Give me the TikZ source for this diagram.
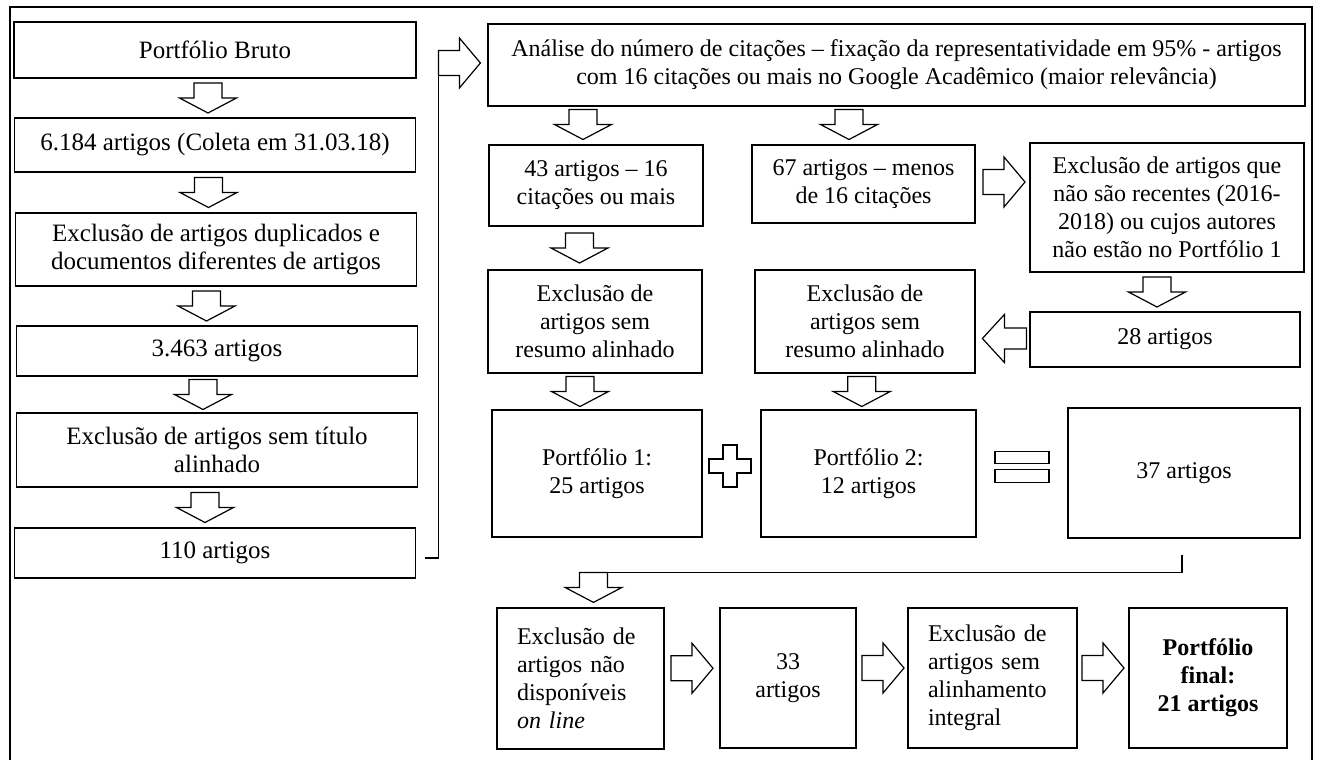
\documentclass[tikz,border=0pt]{standalone}
\usepackage{fontspec}
\setmainfont{Liberation Serif}
\usetikzlibrary{calc}
\newcommand\boxfont{\fontsize{24}{28}\selectfont}
\newcommand\leftfont{\fontsize{25}{28.5}\selectfont}
\tikzset{
  box/.style={draw, line width=1.2pt, font=\boxfont, align=center, inner sep=2pt},
  colbox/.style={box, font=\leftfont, minimum width=401},
  lbox/.style={draw, line width=1.2pt, font=\boxfont, align=left, inner xsep=20pt, inner ysep=2pt},
  blk/.style={draw, line width=1.2pt, fill=white, line join=miter},
  conn/.style={line width=1.4pt},
  darr/.pic={\draw[blk] (-14,-15) -- (14,-15) -- (14,0) -- (28.5,0) -- (0,15) -- (-28.5,0) -- (-14,0) -- cycle;},
  rarr/.pic={\draw[blk] (-21,-12.5) -- (0,-12.5) -- (0,-25) -- (21,0) -- (0,25) -- (0,12.5) -- (-21,12.5) -- cycle;},
  larr/.pic={\draw[blk] (22,-10.5) -- (0,-10.5) -- (0,-24) -- (-22,0) -- (0,24) -- (0,10.5) -- (22,10.5) -- cycle;},
  plussign/.pic={\draw[blk] (-7,-21) -- (7,-21) -- (7,-7) -- (21,-7) -- (21,7) -- (7,7) -- (7,21) -- (-7,21) -- (-7,7) -- (-21,7) -- (-21,-7) -- (-7,-7) -- cycle;},
  eqsign/.pic={\draw[blk] (-27,-15.5) rectangle (27,-3.5); \draw[blk] (-27,2.5) rectangle (27,15.5);},
}
\begin{document}
\begin{tikzpicture}[x=1pt, y=-1pt]
\useasboundingbox (0,0) rectangle (1317,760);
% outer frame (open at the bottom)
\draw[line width=1.5pt] (10,762) -- (10,7) -- (1312,7) -- (1312,762);

% left column
\node[colbox, minimum width=402, minimum height=56] (p0) at (215,50) {Portfólio Bruto};
\node[colbox, minimum height=54] (p1) at (215,145) {6.184 artigos (Coleta em 31.03.18)};
\node[colbox, minimum height=73] (p2) at (216,249.5) {Exclusão de artigos duplicados e\\documentos diferentes de artigos};
\node[colbox, minimum height=50] (p3) at (217,351) {3.463 artigos};
\node[colbox, minimum height=74] (p4) at (217,450) {Exclusão de artigos sem título\\alinhado};
\node[colbox, minimum height=50] (p5) at (215,553) {110 artigos};

\pic at ($(p0.south)!.5!(p1.north)+(-7,0)$) {darr};
\pic at ($(p1.south)!.5!(p2.north)+(-7,0)$) {darr};
\pic at ($(p2.south)!.5!(p3.north)+(-10,0)$) {darr};
\pic at ($(p3.south)!.5!(p4.north)+(-14,0)$) {darr};
\pic at ($(p4.south)!.5!(p5.north)+(-11,0)$) {darr};

% upper right block
\node[box, minimum width=817, minimum height=82] (top) at (896.5,65) {Análise do número de citações – fixação da representatividade em 95\% - artigos\\com 16 citações ou mais no Google Acadêmico (maior relevância)};
\node[box, minimum width=214, minimum height=81] (a43) at (596,185.5) {43 artigos – 16\\citações ou mais};
\node[box, minimum width=223, minimum height=78] (a67) at (863.5,184) {67 artigos – menos\\de 16 citações};
\node[box, minimum width=274, minimum height=129] (exR) at (1167,207.5) {Exclusão de artigos que\\não são recentes (2016-\\2018) ou cujos autores\\não estão no Portfólio 1};
\node[box, minimum width=270, minimum height=55] (a28) at (1165,339.5) {28 artigos};
\node[box, minimum width=214, minimum height=103] (exA) at (595,321.5) {Exclusão de\\artigos sem\\resumo alinhado};
\node[box, minimum width=220, minimum height=103] (exB) at (865,321.5) {Exclusão de\\artigos sem\\resumo alinhado};
\node[box, minimum width=210, minimum height=127] (pf1) at (597,473.5) {Portfólio 1:\\25 artigos};
\node[box, minimum width=215, minimum height=127] (pf2) at (868.5,473.5) {Portfólio 2:\\12 artigos};
\node[box, minimum width=232, minimum height=130] (a37) at (1184,473) {37 artigos};

% connector from 110 artigos to the analysis box
\draw[conn] ($(p5.east)+(9,5)$) -| ($(top.west)+(-49,-14.5)$);
\pic at ($(top.west)+(-28,-2)$) {rarr};

\pic at ($(top.south -| a43.north)!.5!(a43.north)+(-13,-1)$) {darr};
\pic at ($(top.south -| a67.north)!.5!(a67.north)+(-14.5,-1)$) {darr};
\pic at ($(a67.east)!.5!(a67.east -| exR.west)+(1.5,-2)$) {rarr};
\pic at ($(exR.south)!.5!(a28.north)+(-9,0)$) {darr};
\pic at ($(a28.west)+(-25,-1)$) {larr};
\pic at ($(a43.south)!.5!(exA.north)+(-16,0)$) {darr};
\pic at ($(exA.south)!.5!(pf1.north)+(-16,0)$) {darr};
\pic at ($(exB.south)!.5!(pf2.north)+(-5,0)$) {darr};
\pic at ($(pf1.east)!.5!(pf2.west)+(-1.5,-7.5)$) {plussign};
\pic at ($(pf2.east)!.5!(a37.west)+(0,-6)$) {eqsign};

% bottom row
\node[lbox, text width=127, minimum height=141] (b1) at (580.5,678.5) {Exclusão de\\artigos não\\disponíveis\\\textit{on line}};
\node[box, minimum width=136, minimum height=140] (b2) at (788,678) {33\\artigos};
\node[lbox, text width=129, minimum height=140] (b3) at (992.5,678) {Exclusão de\\artigos sem\\alinhamento\\integral};
\node[box, minimum width=158, minimum height=140, font=\boxfont\bfseries] (b4) at (1208,678) {Portfólio\\final:\\21 artigos};

% connector from 37 artigos down to the bottom row
\draw[conn] ($(a37.south)+(-2,16)$) |- ($(b1.north)+(27,-35)$);
\pic at ($(b1.north)+(13,-20)$) {darr};

\pic at ($(b1.east)!.5!(b2.west)+(0,-10)$) {rarr};
\pic at ($(b2.east)!.5!(b3.west)+(1,-10)$) {rarr};
\pic at ($(b3.east)!.5!(b4.west)+(0,-10)$) {rarr};
\end{tikzpicture}
\end{document}
